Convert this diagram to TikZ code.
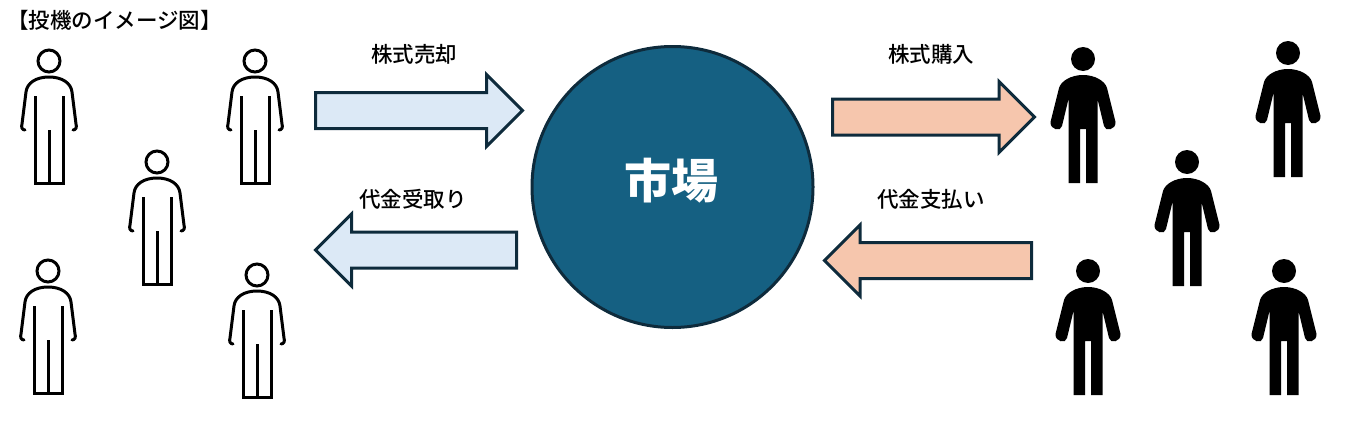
\documentclass[tikz,border=0pt]{standalone}
\usepackage{fontspec}
\setmainfont{Noto Sans CJK JP}
\newfontfamily\lblfont{Noto Sans CJK JP Medium}
\usetikzlibrary{shapes.arrows}
\definecolor{market}{HTML}{156082}
\definecolor{edge}{HTML}{0E2B3C}
\definecolor{sellblue}{HTML}{DCE9F6}
\definecolor{buyorange}{HTML}{F6C6AD}

\begin{document}
\begin{tikzpicture}[x=1pt,y=-1pt,
  lbl/.style = {font=\fontsize{21.5}{22}\lblfont, inner sep=0pt},
  arr/.style = {single arrow, draw=edge, line width=3pt, inner sep=0pt, single arrow head indent=0pt, text height=33pt, text depth=0pt, text width=1pt, minimum width=69pt, single arrow head extend=18pt, minimum height=207pt},
  hollow/.pic = {
    \node[circle, draw, line width=3pt, minimum size=22pt, inner sep=0pt] (-head) at (0,0) {};
    \draw[line width=3pt, line cap=round, line join=round] (-24,69) .. controls (-27,69) and (-28,66) .. (-27,63) -- (-23,31) .. controls (-22,22) and (-13,16) .. (0,16) .. controls (13,16) and (22,22) .. (23,31) -- (27,63) .. controls (28,66) and (27,69) .. (24,69);
    \draw[line width=3pt] (-14,35) -- (-14,122) -- (14,122) -- (14,35);
    \draw[line width=3pt] (0,69) -- (0,122);
  },
  solid/.pic = {
    \node[circle, fill, minimum size=24pt, inner sep=0pt] (-head) at (0,0) {};
    \fill (-14.5,124) -- (-14.5,40) -- (-21,67) .. controls (-22,73) and (-33,71) .. (-32.5,63) -- (-24,29) .. controls (-22,22) and (-12,16) .. (0,16) .. controls (12,16) and (22,22) .. (24,29) -- (32.5,63) .. controls (33,71) and (22,73) .. (21,67) -- (14.5,40) -- (14.5,124) -- (3,124) -- (3,70) -- (-3,70) -- (-3,124) -- cycle;
  }]
\useasboundingbox (0,0) rectangle (1346,439);
\node[lbl, anchor=west] (title) at (7,20) {【投機のイメージ図】};
\node[circle, draw=edge, line width=3pt, fill=market, minimum size=281pt, inner sep=0pt] (market) at (672.5,187) {};
\node[font=\fontsize{47}{47}\selectfont\bfseries, text=white, inner sep=0pt] (marketlbl) at (671,181) {市場};
\node[arr, fill=sellblue] (sell) at (410,110.5) {};
\node[arr, fill=sellblue, shape border rotate=180, minimum height=201pt] (receive) at (425,250) {};
\node[arr, fill=buyorange, minimum height=202pt, minimum width=68pt, single arrow head extend=17.5pt] (buy) at (924.5,117) {};
\node[arr, fill=buyorange, shape border rotate=180, minimum width=68pt, single arrow head extend=17.5pt] (pay) at (937,260.5) {};
\node[lbl] (selllbl) [above] at (414,65) {株式売却};
\node[lbl] (receivelbl) [above] at (413,210) {代金受取り};
\node[lbl] (buylbl) [above] at (931,65) {株式購入};
\node[lbl] (paylbl) [above] at (931,210) {代金支払い};
\pic (w1) at (49,61) {hollow};
\pic (w2) at (255,61) {hollow};
\pic (w3) at (157,162) {hollow};
\pic (w4) at (48,271) {hollow};
\pic (w5) at (257,275) {hollow};
\pic (b1) at (1083,59) {solid};
\pic (b2) at (1288,53) {solid};
\pic (b3) at (1187,162) {solid};
\pic (b4) at (1088,271) {solid};
\pic (b5) at (1284,271) {solid};
\end{tikzpicture}
\end{document}
